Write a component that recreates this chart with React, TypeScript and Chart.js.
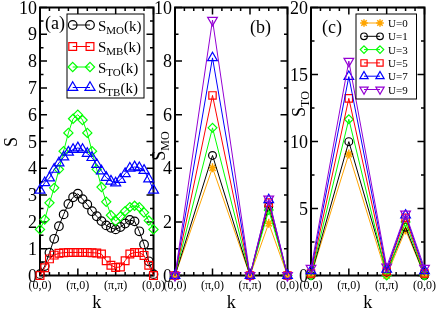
import React, { useEffect, useRef } from 'react';
import { Chart, registerables } from 'chart.js';

Chart.register(...registerables);

const W = 436;
const H = 309;
const SERIF = '"Liberation Serif", "DejaVu Serif", serif';

// ---- k-path axis ----
const kTickPos = [0, 1, 2, 3];
const kTickLabels = ['(0,0)', '(π,0)', '(π,π)', '(0,0)'];

// ---- Panel (a) ----
const kPathA = [0, 0.125, 0.25, 0.375, 0.5, 0.625, 0.75, 0.875, 1, 1.125, 1.25, 1.375, 1.5, 1.625, 1.75, 1.875, 2, 2.125, 2.25, 2.375, 2.5, 2.625, 2.75, 2.875, 3];
const sMO = [0.05, 0.35, 0.85, 1.37, 1.84, 2.28, 2.67, 2.92, 3.05, 2.85, 2.65, 2.4, 2.21, 2.03, 1.87, 1.78, 1.72, 1.81, 1.94, 2.07, 2.02, 1.65, 1.16, 0.53, 0.05];
const sMB = [0.0, 0.29, 0.62, 0.76, 0.83, 0.85, 0.86, 0.86, 0.86, 0.86, 0.86, 0.85, 0.84, 0.8, 0.55, 0.38, 0.3, 0.32, 0.55, 0.8, 0.86, 0.86, 0.75, 0.38, 0.0];
const sTO = [1.72, 2.09, 2.71, 3.27, 3.96, 4.64, 5.32, 5.85, 6.0, 5.8, 5.32, 4.64, 3.96, 3.3, 2.75, 2.25, 2.03, 2.2, 2.4, 2.55, 2.6, 2.55, 2.35, 2.05, 1.72];
const sTB = [3.18, 3.46, 3.64, 3.96, 4.2, 4.42, 4.6, 4.7, 4.76, 4.7, 4.55, 4.4, 4.14, 3.9, 3.66, 3.52, 3.45, 3.58, 3.8, 4.0, 4.05, 4.02, 3.92, 3.6, 3.18];

// ---- Panels (b) and (c) ----
const kPathBC = [0, 1, 2, 2.5, 3];
const uLabels = ['U=0', 'U=1', 'U=3', 'U=5', 'U=7', 'U=9'];
const sMO_U0 = [0, 4.02, 0, 1.95, 0];
const sMO_U1 = [0, 4.48, 0, 2.57, 0];
const sMO_U3 = [0, 5.51, 0, 2.44, 0];
const sMO_U5 = [0, 6.72, 0, 2.72, 0];
const sMO_U7 = [0, 8.12, 0, 2.82, 0];
const sMO_U9 = [0, 9.53, 0, 2.86, 0];
const sTO_U0 = [0, 9.07, 0, 3.4, 0];
const sTO_U1 = [0, 9.99, 0.25, 3.6, 0];
const sTO_U3 = [0, 11.66, 0, 4.0, 0];
const sTO_U5 = [0.15, 13.22, 0.3, 4.3, 0.15];
const sTO_U7 = [0.35, 14.84, 0.45, 4.5, 0.35];
const sTO_U9 = [0.55, 16.0, 0.65, 4.6, 0.55];

type Part = { t: string; size: number; dy?: number };
type Sty = { color: string; style: string; r: number; rot?: number };
type Ser = { label: Part[]; data: number[]; sty: Sty };
type Panel = {
  id: string;
  area: { l: number; t: number; r: number; b: number };
  xs: number[];
  series: Ser[];
  yMax: number;
  yMajor: number;
  yMinor: number;
  yTitle: Part[];
  yTitlePos: [number, number];
  tag: string;
  tagPos: [number, number];
  legend: { box: [number, number, number, number]; rows: number[]; x1: number; x2: number; tx: number; scale: number; dyText: number };
};

const BLACK = '#000000';
const RED = '#ff0000';
const GREEN = '#00ff00';
const BLUE = '#0000ff';
const VIOLET = '#9400d3';
const ORANGE = '#ffa500';

const subLabel = (s: string, sub: string, tail = ''): Part[] => {
  const p: Part[] = [{ t: s, size: 15 }, { t: sub, size: 11, dy: 3 }];
  if (tail) p.push({ t: tail, size: 15 });
  return p;
};

const uStyles: Sty[] = [
  { color: ORANGE, style: 'star', r: 4.5 },
  { color: BLACK, style: 'circle', r: 3.9 },
  { color: GREEN, style: 'rectRot', r: 4.4 },
  { color: RED, style: 'rect', r: 5.2 },
  { color: BLUE, style: 'triangle', r: 5.6 },
  { color: VIOLET, style: 'triangle', r: 5.6, rot: 180 },
];

const uPart = (s: string): Part[] => [{ t: s, size: 11 }];

const panels: Panel[] = [
  {
    id: 'a',
    area: { l: 40, t: 7.5, r: 153.5, b: 275.5 },
    xs: kPathA,
    series: [
      { label: subLabel('S', 'MO', '(k)'), data: sMO, sty: { color: BLACK, style: 'circle', r: 4.3 } },
      { label: subLabel('S', 'MB', '(k)'), data: sMB, sty: { color: RED, style: 'rect', r: 5.5 } },
      { label: subLabel('S', 'TO', '(k)'), data: sTO, sty: { color: GREEN, style: 'rectRot', r: 4.6 } },
      { label: subLabel('S', 'TB', '(k)'), data: sTB, sty: { color: BLUE, style: 'triangle', r: 5.8 } },
    ],
    yMax: 10,
    yMajor: 1,
    yMinor: 0.5,
    yTitle: [{ t: 'S', size: 18 }],
    yTitlePos: [17, 142],
    tag: '(a)',
    tagPos: [45, 28.5],
    legend: { box: [67, 14, 144, 98], rows: [25, 46.5, 67, 87.5], x1: 72.7, x2: 90, tx: 98, scale: 1, dyText: 5.5 },
  },
  {
    id: 'b',
    area: { l: 175, t: 7.5, r: 287.5, b: 275.5 },
    xs: kPathBC,
    series: [sMO_U0, sMO_U1, sMO_U3, sMO_U5, sMO_U7, sMO_U9].map((d, i) => ({ label: uPart(uLabels[i]), data: d, sty: uStyles[i] })),
    yMax: 10,
    yMajor: 2,
    yMinor: 1,
    yTitle: [{ t: 'S', size: 18 }, { t: 'MO', size: 12, dy: 4 }],
    yTitlePos: [165, 146],
    tag: '(b)',
    tagPos: [250, 33],
    legend: { box: [0, 0, 0, 0], rows: [], x1: 0, x2: 0, tx: 0, scale: 1, dyText: 0 },
  },
  {
    id: 'c',
    area: { l: 311, t: 7.5, r: 424.5, b: 275.5 },
    xs: kPathBC,
    series: [sTO_U0, sTO_U1, sTO_U3, sTO_U5, sTO_U7, sTO_U9].map((d, i) => ({ label: uPart(uLabels[i]), data: d, sty: uStyles[i] })),
    yMax: 20,
    yMajor: 5,
    yMinor: 2.5,
    yTitle: [{ t: 'S', size: 18 }, { t: 'TO', size: 12, dy: 4 }],
    yTitlePos: [305, 104],
    tag: '(c)',
    tagPos: [322, 33],
    legend: { box: [356, 14, 416.5, 99], rows: [23, 36.3, 49.6, 62.9, 76.2, 89.5], x1: 364, x2: 380, tx: 388, scale: 0.85, dyText: 4 },
  },
];

function partsWidth(ctx: CanvasRenderingContext2D, parts: Part[]) {
  let w = 0;
  for (const p of parts) {
    ctx.font = `${p.size}px ${SERIF}`;
    w += ctx.measureText(p.t).width;
  }
  return w;
}

function drawParts(ctx: CanvasRenderingContext2D, parts: Part[], x: number, y: number, align: 'left' | 'center' | 'right', rot = 0) {
  ctx.save();
  ctx.translate(x, y);
  if (rot) ctx.rotate(rot);
  const w = partsWidth(ctx, parts);
  let cx = align === 'left' ? 0 : align === 'center' ? -w / 2 : -w;
  ctx.textAlign = 'left';
  ctx.textBaseline = 'alphabetic';
  ctx.fillStyle = '#000';
  for (const p of parts) {
    ctx.font = `${p.size}px ${SERIF}`;
    ctx.fillText(p.t, cx, p.dy || 0);
    cx += ctx.measureText(p.t).width;
  }
  ctx.restore();
}

function drawMarker(ctx: CanvasRenderingContext2D, s: Sty, x: number, y: number, scale: number) {
  const r = s.r * scale;
  ctx.save();
  ctx.strokeStyle = s.color;
  ctx.lineWidth = 1.2;
  ctx.beginPath();
  if (s.style === 'circle') {
    ctx.arc(x, y, r, 0, Math.PI * 2);
  } else if (s.style === 'rect') {
    const h = r * Math.SQRT1_2;
    ctx.rect(x - h, y - h, 2 * h, 2 * h);
  } else if (s.style === 'rectRot') {
    ctx.moveTo(x, y - r);
    ctx.lineTo(x + r, y);
    ctx.lineTo(x, y + r);
    ctx.lineTo(x - r, y);
    ctx.closePath();
  } else if (s.style === 'triangle') {
    let a = ((s.rot || 0) * Math.PI) / 180;
    for (let k = 0; k < 3; k++) {
      const px = x + Math.sin(a) * r;
      const py = y - Math.cos(a) * r;
      if (k === 0) ctx.moveTo(px, py);
      else ctx.lineTo(px, py);
      a += (2 * Math.PI) / 3;
    }
    ctx.closePath();
  } else if (s.style === 'star') {
    ctx.lineWidth = 1.5;
    for (let k = 0; k < 4; k++) {
      const a = (k * Math.PI) / 4;
      ctx.moveTo(x - Math.cos(a) * r, y - Math.sin(a) * r);
      ctx.lineTo(x + Math.cos(a) * r, y + Math.sin(a) * r);
    }
  }
  ctx.stroke();
  ctx.restore();
}

function makePlugin(p: Panel) {
  return {
    id: 'frame' + p.id,
    beforeDatasetsDraw(chart: any) {
      const ctx: CanvasRenderingContext2D = chart.ctx;
      const xs = chart.scales.x;
      const ys = chart.scales.y;
      const { left: l, right: r, top: t, bottom: b } = chart.chartArea;
      ctx.save();
      ctx.strokeStyle = '#000';
      ctx.lineWidth = 1.5;
      // y ticks
      const ny = Math.round(p.yMax / p.yMinor);
      for (let i = 0; i <= ny; i++) {
        const v = i * p.yMinor;
        const q = v / p.yMajor;
        const major = Math.abs(q - Math.round(q)) < 1e-6;
        const len = major ? 7 : 3.5;
        const y = ys.getPixelForValue(v);
        ctx.beginPath();
        ctx.moveTo(l, y);
        ctx.lineTo(l + len, y);
        ctx.moveTo(r, y);
        ctx.lineTo(r - len, y);
        ctx.stroke();
      }
      // x ticks
      const nx = 12;
      for (let i = 0; i <= nx; i++) {
        const v = i * 0.25;
        const major = i % 4 === 0;
        const len = major ? 7 : 3.5;
        const x = xs.getPixelForValue(v);
        ctx.beginPath();
        ctx.moveTo(x, b);
        ctx.lineTo(x, b - len);
        ctx.moveTo(x, t);
        ctx.lineTo(x, t + len);
        ctx.stroke();
      }
      ctx.lineWidth = 2;
      ctx.strokeRect(l, t, r - l, b - t);
      // y tick labels
      ctx.fillStyle = '#000';
      ctx.font = `18px ${SERIF}`;
      ctx.textAlign = 'right';
      ctx.textBaseline = 'alphabetic';
      const nm = Math.round(p.yMax / p.yMajor);
      for (let i = 0; i <= nm; i++) {
        const v = i * p.yMajor;
        ctx.fillText(String(v), l - 3, ys.getPixelForValue(v) + 6);
      }
      // x tick labels
      ctx.font = `12px ${SERIF}`;
      ctx.textAlign = 'center';
      kTickPos.forEach((v, i) => {
        ctx.fillText(kTickLabels[i], xs.getPixelForValue(v), 289);
      });
      ctx.restore();
      // titles
      drawParts(ctx, [{ t: 'k', size: 18 }], (l + r) / 2, 308, 'center');
      drawParts(ctx, p.yTitle, p.yTitlePos[0], p.yTitlePos[1], 'center', -Math.PI / 2);
    },
    afterDatasetsDraw(chart: any) {
      const ctx: CanvasRenderingContext2D = chart.ctx;
      drawParts(ctx, [{ t: p.tag, size: 18 }], p.tagPos[0], p.tagPos[1], 'left');
      const lg = p.legend;
      if (!lg.rows.length) return;
      ctx.save();
      ctx.fillStyle = '#fff';
      ctx.fillRect(lg.box[0], lg.box[1], lg.box[2] - lg.box[0], lg.box[3] - lg.box[1]);
      ctx.strokeStyle = '#000';
      ctx.lineWidth = 1;
      ctx.strokeRect(lg.box[0], lg.box[1], lg.box[2] - lg.box[0], lg.box[3] - lg.box[1]);
      ctx.restore();
      p.series.forEach((s, i) => {
        const y = lg.rows[i];
        ctx.save();
        ctx.strokeStyle = s.sty.color;
        ctx.lineWidth = 1;
        ctx.beginPath();
        ctx.moveTo(lg.x1, y);
        ctx.lineTo(lg.x2, y);
        ctx.stroke();
        ctx.restore();
        drawMarker(ctx, s.sty, lg.x1, y, lg.scale);
        drawMarker(ctx, s.sty, lg.x2, y, lg.scale);
        drawParts(ctx, s.label, lg.tx, y + lg.dyText, 'left');
      });
    },
  };
}

function buildConfig(p: Panel): any {
  const n = p.series.length;
  return {
    type: 'line',
    data: {
      datasets: p.series.map((s, i) => ({
        data: p.xs.map((x, j) => ({ x, y: s.data[j] })),
        borderColor: s.sty.color,
        borderWidth: 1,
        pointStyle: s.sty.style,
        pointRadius: s.sty.r,
        pointRotation: s.sty.rot || 0,
        pointBorderColor: s.sty.color,
        pointBackgroundColor: 'rgba(0,0,0,0)',
        pointBorderWidth: s.sty.style === 'star' ? 1.5 : 1.2,
        tension: 0,
        fill: false,
        clip: false,
        order: n - i,
      })),
    },
    options: {
      responsive: false,
      animation: false,
      devicePixelRatio: 1,
      events: [],
      layout: { padding: { left: p.area.l, top: p.area.t, right: W - p.area.r, bottom: H - p.area.b } },
      plugins: { legend: { display: false }, tooltip: { enabled: false }, title: { display: false } },
      scales: {
        x: { type: 'linear', min: 0, max: 3, display: false },
        y: { type: 'linear', min: 0, max: p.yMax, display: false },
      },
    },
    plugins: [makePlugin(p)],
  };
}

function PanelCanvas({ p }: { p: Panel }) {
  const ref = useRef<HTMLCanvasElement | null>(null);
  useEffect(() => {
    if (!ref.current) return;
    const chart = new Chart(ref.current, buildConfig(p));
    return () => chart.destroy();
  }, [p]);
  return (
    <canvas
      ref={ref}
      width={W}
      height={H}
      style={{ position: 'absolute', left: 0, top: 0, width: W, height: H }}
    />
  );
}

export default function App() {
  return (
    <div style={{ position: 'fixed', left: 0, top: 0, width: W, height: H, background: '#fff', overflow: 'hidden' }}>
      {panels.map((p) => (
        <PanelCanvas key={p.id} p={p} />
      ))}
    </div>
  );
}
